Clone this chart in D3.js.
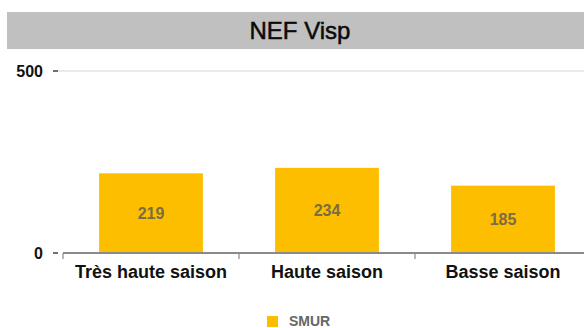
<!DOCTYPE html>
<html>
<head>
<meta charset="utf-8">
<script src="https://cdn.jsdelivr.net/npm/d3@7"></script>
<style>
  html, body { margin: 0; padding: 0; background: #fff; }
  svg { display: block; font-family: "Liberation Sans", Arial, sans-serif; }
</style>
</head>
<body>
<svg id="chart" width="584" height="328"></svg>
<script>
// Chart data
const categories = ["Très haute saison", "Haute saison", "Basse saison"];
const smurValues = [219, 234, 185];
const yTicks = [0, 500];
const seriesName = "SMUR";
const chartTitle = "NEF Visp";

const svg = d3.select("#chart");
const W = 584, H = 328;
const plot = { left: 63, right: 591, top: 71, bottom: 253 };

// Title band
svg.append("rect").attr("x", 7).attr("y", 12).attr("width", W - 7).attr("height", 37)
  .attr("fill", "#c0c0c0");
svg.append("text").attr("x", 300).attr("y", 39).attr("text-anchor", "middle")
  .attr("font-size", 24).attr("fill", "#0a0a0a")
  .attr("stroke", "#0a0a0a").attr("stroke-width", 0.5).text(chartTitle);

const x = d3.scaleBand().domain(categories).range([plot.left, plot.right])
  .paddingInner(0.41).paddingOuter(0.205);
const y = d3.scaleLinear().domain([0, 500]).range([plot.bottom, plot.top]);

// Gridline at top tick
svg.append("line").attr("x1", 58).attr("x2", W).attr("y1", y(500)).attr("y2", y(500))
  .attr("stroke", "#e4e4e4").attr("stroke-width", 1.5);

// Y axis labels and dashes
const yg = svg.append("g");
yTicks.forEach(t => {
  yg.append("text").attr("x", 43).attr("y", y(t) + 6).attr("text-anchor", "end")
    .attr("font-size", 16).attr("font-weight", "bold").attr("fill", "#111").text(t);
  yg.append("line").attr("x1", 53).attr("x2", 58).attr("y1", y(t)).attr("y2", y(t))
    .attr("stroke", "#333").attr("stroke-width", 1.4);
});

// Bars
svg.append("g").selectAll("rect").data(smurValues).join("rect")
  .attr("x", (d, i) => x(categories[i]))
  .attr("width", x.bandwidth())
  .attr("y", d => y(d))
  .attr("height", d => y(0) - y(d))
  .attr("fill", "#fdbe00");

// Baseline axis with ticks between categories
const band = (plot.right - plot.left) / categories.length;
svg.append("line").attr("x1", plot.left).attr("x2", W).attr("y1", y(0)).attr("y2", y(0))
  .attr("stroke", "#8a8a8a").attr("stroke-width", 2);
d3.range(categories.length + 1).forEach(i => {
  const tx = plot.left + i * band;
  svg.append("line").attr("x1", tx).attr("x2", tx).attr("y1", y(0)).attr("y2", y(0) + 6)
    .attr("stroke", "#8a8a8a").attr("stroke-width", 1.2);
});

// Value labels inside bars
svg.append("g").selectAll("text").data(smurValues).join("text")
  .attr("x", (d, i) => x(categories[i]) + x.bandwidth() / 2)
  .attr("y", d => (y(d) + y(0)) / 2 + 6)
  .attr("text-anchor", "middle").attr("font-size", 16).attr("font-weight", "bold")
  .attr("fill", "#7a6c45").text(d => d);

// Category labels
svg.append("g").selectAll("text").data(categories).join("text")
  .attr("x", d => x(d) + x.bandwidth() / 2)
  .attr("y", 278)
  .attr("text-anchor", "middle").attr("font-size", 18).attr("font-weight", "bold")
  .attr("fill", "#111").text(d => d);

// Legend
svg.append("rect").attr("x", 267).attr("y", 316).attr("width", 11).attr("height", 11)
  .attr("fill", "#fdbe00");
svg.append("text").attr("x", 289).attr("y", 326).attr("font-size", 14)
  .attr("font-weight", "bold").attr("fill", "#666").text(seriesName);
</script>
</body>
</html>
